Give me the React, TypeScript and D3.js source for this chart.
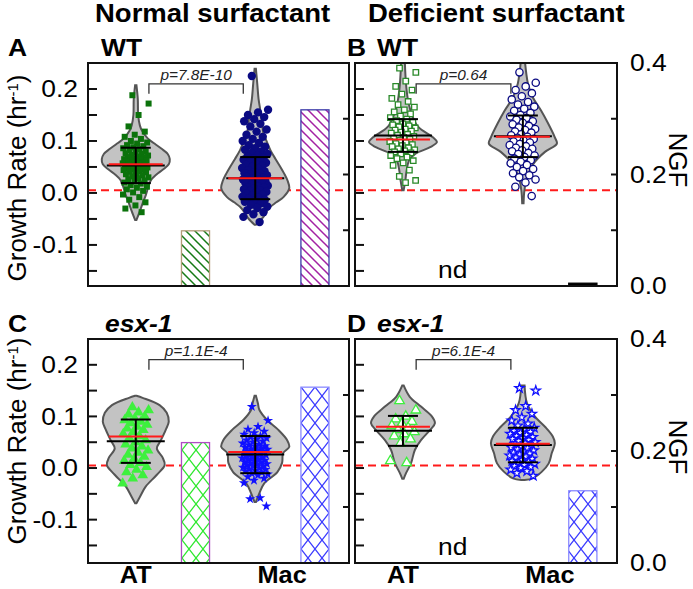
import React, { useEffect, useRef } from 'react';
import * as d3 from 'd3';

// ---------- text / labels ----------
const columnTitles = ['Normal surfactant', 'Deficient surfactant'];
const panelLetters = ['A', 'B', 'C', 'D'];
const panelStrains = ['WT', 'WT', 'esx-1', 'esx-1'];
const pValues = ['p=7.8E-10', 'p=0.64', 'p=1.1E-4', 'p=6.1E-4'];
const categories = ['AT', 'Mac'];
const growthTickLabels = [0.2, 0.1, 0.0, -0.1];
const growthMinorTicks = [-0.15, -0.1, -0.05, 0, 0.05, 0.1, 0.15, 0.2];
const ngfTickLabels = [0.0, 0.2, 0.4];
const ngfMinorTicks = [0.1, 0.2, 0.3];

// ---------- growth-rate points (hr^-1) ----------
const wtNormalAT = [0.188, 0.172, 0.150, 0.128, 0.118, 0.112, 0.108, 0.104, 0.100, 0.097, 0.095, 0.092, 0.090, 0.088, 0.086, 0.084, 0.082, 0.080, 0.078, 0.076, 0.075, 0.073, 0.072, 0.070, 0.069, 0.068, 0.066, 0.065, 0.064, 0.063, 0.062, 0.061, 0.060, 0.059, 0.058, 0.057, 0.056, 0.055, 0.054, 0.053, 0.052, 0.051, 0.050, 0.049, 0.048, 0.047, 0.046, 0.045, 0.044, 0.042, 0.041, 0.040, 0.038, 0.036, 0.034, 0.032, 0.030, 0.028, 0.026, 0.024, 0.022, 0.020, 0.018, 0.015, 0.012, 0.010, 0.007, 0.004, 0.001, -0.003, -0.008, -0.013, -0.018, -0.024, -0.030, -0.037];
const wtNormalMac = [0.225, 0.160, 0.155, 0.150, 0.146, 0.142, 0.138, 0.133, 0.128, 0.122, 0.118, 0.112, 0.108, 0.104, 0.100, 0.096, 0.092, 0.089, 0.086, 0.083, 0.080, 0.077, 0.075, 0.072, 0.070, 0.068, 0.066, 0.064, 0.062, 0.060, 0.058, 0.056, 0.054, 0.052, 0.050, 0.048, 0.046, 0.044, 0.042, 0.040, 0.038, 0.037, 0.035, 0.034, 0.032, 0.031, 0.029, 0.028, 0.026, 0.025, 0.023, 0.022, 0.020, 0.019, 0.017, 0.016, 0.014, 0.013, 0.011, 0.010, 0.008, 0.007, 0.005, 0.004, 0.002, 0.001, -0.001, -0.003, -0.005, -0.007, -0.009, -0.011, -0.013, -0.015, -0.017, -0.020, -0.023, -0.026, -0.029, -0.033, -0.037, -0.041, -0.046, -0.056];
const wtDeficientAT = [0.240, 0.232, 0.215, 0.205, 0.198, 0.190, 0.182, 0.176, 0.170, 0.165, 0.160, 0.156, 0.152, 0.148, 0.145, 0.142, 0.139, 0.136, 0.133, 0.131, 0.129, 0.127, 0.125, 0.123, 0.121, 0.119, 0.117, 0.115, 0.113, 0.111, 0.109, 0.107, 0.105, 0.103, 0.101, 0.099, 0.097, 0.095, 0.093, 0.091, 0.089, 0.087, 0.085, 0.083, 0.081, 0.079, 0.077, 0.075, 0.072, 0.069, 0.066, 0.062, 0.058, 0.053, 0.044, 0.032, 0.024, 0.020];
const wtDeficientMac = [0.232, 0.212, 0.205, 0.198, 0.192, 0.186, 0.180, 0.175, 0.170, 0.166, 0.162, 0.158, 0.154, 0.150, 0.147, 0.144, 0.141, 0.138, 0.135, 0.132, 0.129, 0.126, 0.123, 0.121, 0.118, 0.116, 0.113, 0.111, 0.108, 0.106, 0.104, 0.101, 0.099, 0.097, 0.094, 0.092, 0.090, 0.087, 0.085, 0.082, 0.080, 0.077, 0.075, 0.072, 0.069, 0.066, 0.063, 0.060, 0.057, 0.054, 0.050, 0.046, 0.042, 0.038, 0.034, 0.030, 0.026, 0.020, 0.012, -0.006];
const esxNormalAT = [0.118, 0.112, 0.108, 0.104, 0.100, 0.096, 0.093, 0.090, 0.087, 0.084, 0.080, 0.077, 0.074, 0.070, 0.066, 0.062, 0.058, 0.054, 0.050, 0.046, 0.042, 0.038, 0.034, 0.030, 0.026, 0.022, 0.018, 0.014, 0.010, 0.006, 0.002, -0.003, -0.008, -0.014, -0.020, -0.030];
const esxNormalMac = [0.119, 0.092, 0.080, 0.075, 0.071, 0.068, 0.065, 0.062, 0.060, 0.058, 0.056, 0.054, 0.052, 0.050, 0.048, 0.046, 0.045, 0.043, 0.042, 0.040, 0.039, 0.037, 0.036, 0.035, 0.033, 0.032, 0.031, 0.029, 0.028, 0.027, 0.025, 0.024, 0.023, 0.021, 0.020, 0.019, 0.017, 0.016, 0.015, 0.013, 0.012, 0.011, 0.009, 0.008, 0.007, 0.005, 0.004, 0.003, 0.001, 0.000, -0.002, -0.003, -0.005, -0.006, -0.008, -0.010, -0.012, -0.014, -0.017, -0.020, -0.024, -0.029, -0.058, -0.060, -0.074];
const esxDeficientAT = [0.130, 0.112, 0.100, 0.095, 0.090, 0.086, 0.082, 0.078, 0.074, 0.070, 0.066, 0.062, 0.056, 0.048, 0.014, 0.010];
const esxDeficientMac = [0.155, 0.150, 0.120, 0.112, 0.105, 0.098, 0.092, 0.086, 0.082, 0.078, 0.075, 0.072, 0.070, 0.068, 0.066, 0.064, 0.062, 0.060, 0.058, 0.056, 0.054, 0.052, 0.050, 0.048, 0.046, 0.044, 0.042, 0.040, 0.038, 0.036, 0.034, 0.032, 0.030, 0.028, 0.026, 0.024, 0.022, 0.020, 0.018, 0.016, 0.014, 0.012, 0.010, 0.008, 0.006, 0.004, 0.002, 0.000, -0.003, -0.006, -0.010, -0.015];

// ---------- summary statistics (per panel A,B,C,D) ----------
const meanAT = [0.053, 0.1105, 0.052, 0.072];
const sdAT = [0.034, 0.0315, 0.042, 0.029];
const medianAT = [0.055, 0.103, 0.061, 0.080];
const meanMac = [0.0285, 0.109, 0.026, 0.0445];
const sdMac = [0.0405, 0.040, 0.036, 0.0335];
const medianMac = [0.0285, 0.108, 0.031, 0.047];

// ---------- NGF bars (null = not detected) ----------
const ngfAT = [0.099, null, 0.215, null];
const ngfMac = [0.316, 0.005, 0.314, 0.129];

// ---------- violin density profiles [growth value, relative density] ----------
const violinWtNormalAT = [[0.207, 0.02], [0.18, 0.06], [0.15, 0.07], [0.13, 0.12], [0.12, 0.18], [0.105, 0.35], [0.095, 0.55], [0.085, 0.76], [0.075, 0.94], [0.065, 1.0], [0.055, 0.97], [0.045, 0.8], [0.035, 0.6], [0.025, 0.45], [0.01, 0.36], [-0.005, 0.29], [-0.02, 0.2], [-0.035, 0.12], [-0.052, 0.02]];
const violinWtNormalMac = [[0.239, 0.02], [0.21, 0.06], [0.18, 0.1], [0.159, 0.15], [0.135, 0.2], [0.115, 0.24], [0.1, 0.33], [0.082, 0.45], [0.065, 0.6], [0.05, 0.74], [0.035, 0.87], [0.024, 0.95], [0.009, 1.0], [-0.008, 0.83], [-0.018, 0.62], [-0.027, 0.44], [-0.037, 0.32], [-0.046, 0.24], [-0.055, 0.12], [-0.061, 0.02]];
const violinWtDeficientAT = [[0.26, 0.05], [0.21, 0.09], [0.178, 0.15], [0.149, 0.27], [0.127, 0.45], [0.107, 0.88], [0.098, 1.0], [0.088, 0.8], [0.076, 0.38], [0.065, 0.2], [0.057, 0.15], [0.04, 0.1], [0.024, 0.07], [0.005, 0.02]];
const violinWtDeficientMac = [[0.26, 0.05], [0.23, 0.1], [0.21, 0.15], [0.184, 0.29], [0.159, 0.53], [0.134, 0.74], [0.107, 0.94], [0.095, 1.0], [0.079, 0.65], [0.057, 0.32], [0.03, 0.12], [0.005, 0.045], [-0.02, 0.02]];
const violinEsxNormalAT = [[0.14, 0.02], [0.136, 0.2], [0.122, 0.7], [0.107, 0.91], [0.09, 0.97], [0.074, 0.88], [0.054, 0.74], [0.038, 0.62], [0.02, 0.79], [0.006, 0.85], [-0.013, 0.62], [-0.036, 0.29], [-0.056, 0.12], [-0.068, 0.02]];
const violinEsxNormalMac = [[0.14, 0.02], [0.125, 0.08], [0.113, 0.12], [0.093, 0.35], [0.074, 0.68], [0.054, 0.94], [0.041, 1.0], [0.029, 0.82], [0.01, 0.79], [-0.008, 0.65], [-0.03, 0.26], [-0.049, 0.12], [-0.066, 0.02]];
const violinEsxDeficientAT = [[0.16, 0.02], [0.138, 0.2], [0.119, 0.53], [0.1, 0.85], [0.087, 0.94], [0.074, 0.8], [0.054, 0.53], [0.035, 0.35], [0.01, 0.24], [-0.01, 0.09], [-0.021, 0.02]];
const violinEsxDeficientMac = [[0.16, 0.05], [0.126, 0.12], [0.1, 0.35], [0.08, 0.65], [0.061, 0.88], [0.048, 0.94], [0.029, 0.85], [0.009, 0.76], [-0.007, 0.56], [-0.02, 0.29], [-0.023, 0.05]];

const pointsAT = [wtNormalAT, wtDeficientAT, esxNormalAT, esxDeficientAT];
const pointsMac = [wtNormalMac, wtDeficientMac, esxNormalMac, esxDeficientMac];
const violinsAT = [violinWtNormalAT, violinWtDeficientAT, violinEsxNormalAT, violinEsxDeficientAT];
const violinsMac = [violinWtNormalMac, violinWtDeficientMac, violinEsxNormalMac, violinEsxDeficientMac];

const FONT = "'Liberation Sans', Arial, Helvetica, sans-serif";

export default function App() {
  const ref = useRef<SVGSVGElement | null>(null);

  useEffect(() => {
    const svg = d3.select(ref.current);
    svg.selectAll('*').remove();
    const W = 693, H = 589;
    svg.attr('width', W).attr('height', H).attr('font-family', FONT);

    const colX = [[88, 349], [355, 617]];
    const rowY = [[63, 286], [339, 563]];
    const growthDomains = [[-0.179, 0.25], [-0.184, 0.25]];
    const SX = 1.1;

    const addText = (g: any, x: number, y: number, s: string, o: any = {}) => {
      return g.append('text')
        .attr('transform', `translate(${x},${y}) scale(${o.sx ?? SX},1)`)
        .attr('text-anchor', o.anchor ?? 'start')
        .attr('font-size', o.size ?? 24)
        .attr('font-weight', o.weight ?? 'normal')
        .attr('font-style', o.style ?? 'normal')
        .attr('dy', o.dy ?? 0)
        .attr('fill', o.fill ?? '#000')
        .text(s);
    };

    const defs = svg.append('defs');
    const hatch = (id: string, color: string) => {
      const p = defs.append('pattern').attr('id', id).attr('patternUnits', 'userSpaceOnUse').attr('width', 9).attr('height', 9);
      p.append('rect').attr('width', 9).attr('height', 9).attr('fill', '#fff');
      p.append('path').attr('d', 'M-1,-1 L10,10 M-1,8 L1,10 M8,-1 L10,1').attr('stroke', color).attr('stroke-width', 1.5);
    };
    const cross = (id: string, color: string) => {
      const p = defs.append('pattern').attr('id', id).attr('patternUnits', 'userSpaceOnUse').attr('width', 14).attr('height', 18);
      p.append('rect').attr('width', 14).attr('height', 18).attr('fill', '#fff');
      p.append('path').attr('d', 'M0,0 L14,18 M14,0 L0,18').attr('stroke', color).attr('stroke-width', 1.3);
    };
    hatch('hGreen', '#157a15');
    hatch('hPurple', '#a321a3');
    cross('xGreen', '#2ee82e');
    cross('xBlue', '#3a3aff');

    const barFill = [['url(#hGreen)', 'url(#hPurple)'], ['none', '#000'], ['url(#xGreen)', 'url(#xBlue)'], ['none', 'url(#xBlue)']];
    const barStroke = [['#b39c7a', '#3a3aa8'], ['none', '#000'], ['#b04cc4', '#8a8aff'], ['none', '#8a8aff']];

    const markerAT = [
      { type: d3.symbolSquare, size: 36, fill: '#0b720b', stroke: 'none' },
      { type: d3.symbolSquare, size: 30, fill: '#fff', stroke: '#2a8a2a' },
      { type: d3.symbolTriangle, size: 50, fill: '#3ef03e', stroke: 'none' },
      { type: d3.symbolTriangle, size: 40, fill: '#fff', stroke: '#3ef03e' },
    ];
    const markerMac = [
      { type: d3.symbolCircle, size: 55, fill: '#0a0a82', stroke: 'none' },
      { type: d3.symbolCircle, size: 42, fill: '#fff', stroke: '#0a0a82' },
      { type: d3.symbolStar, size: 32, fill: '#1010ff', stroke: 'none' },
      { type: d3.symbolStar, size: 26, fill: '#fff', stroke: '#1010ff' },
    ];

    const widthScale = d3.scaleLinear().domain([0, 1]).range([0, 34]);

    for (let i = 0; i < 4; i++) {
      const col = i % 2, row = Math.floor(i / 2);
      const [x0, x1] = colX[col];
      const [yTop, yBot] = rowY[row];
      const x = d3.scaleLinear().domain([0.2, 4.57]).range([x0, x1]);
      const y = d3.scaleLinear().domain(growthDomains[row]).range([yBot, yTop]);
      const yN = d3.scaleLinear().domain([0, 0.4]).range([yBot, yTop]);
      const panel = svg.append('g');
      const clipId = `clip${i}`;
      defs.append('clipPath').attr('id', clipId).append('rect')
        .attr('x', x0).attr('y', yTop).attr('width', x1 - x0).attr('height', yBot - yTop);
      const g = panel.append('g').attr('clip-path', `url(#${clipId})`);

      // red dashed reference line
      g.append('line').attr('x1', x0).attr('x2', x1).attr('y1', y(0.005)).attr('y2', y(0.005))
        .attr('stroke', '#ff1a1a').attr('stroke-width', 2).attr('stroke-dasharray', '8,5');

      // NGF bars
      const bw = x(2.235) - x(2);
      [ngfAT[i], ngfMac[i]].forEach((v, k) => {
        const cx = x(2 + 2 * k);
        if (v === null) {
          addText(g, x(1.83), yBot - 8, 'nd', { anchor: 'middle', size: 24 });
        } else {
          g.append('rect').attr('x', cx - bw).attr('width', 2 * bw)
            .attr('y', yN(v)).attr('height', yN(0) - yN(v))
            .attr('fill', barFill[i][k]).attr('stroke', barStroke[i][k]).attr('stroke-width', 1.3);
        }
      });

      // violins
      const groups = [
        { pos: 1, prof: violinsAT[i], pts: pointsAT[i], mk: markerAT[i], mean: meanAT[i], sd: sdAT[i], med: medianAT[i] },
        { pos: 3, prof: violinsMac[i], pts: pointsMac[i], mk: markerMac[i], mean: meanMac[i], sd: sdMac[i], med: medianMac[i] },
      ];
      groups.forEach((gr) => {
        const cx = x(gr.pos);
        const area = d3.area<number[]>()
          .y((d) => y(d[0]))
          .x0((d) => cx - widthScale(d[1]))
          .x1((d) => cx + widthScale(d[1]))
          .curve(d3.curveCatmullRom.alpha(0.5));
        g.append('path').datum(gr.prof).attr('d', area as any)
          .attr('fill', '#c3c3c3').attr('stroke', '#555').attr('stroke-width', 2);

        const sym = d3.symbol().type(gr.mk.type).size(gr.mk.size);
        gr.pts.forEach((v, j) => {
          const jit = (((j * 0.618034 + 0.37) % 1) - 0.5) * 0.44;
          g.append('path').attr('d', sym() as string)
            .attr('transform', `translate(${x(gr.pos + jit)},${y(v)})`)
            .attr('fill', gr.mk.fill).attr('stroke', gr.mk.stroke).attr('stroke-width', 1.3);
        });

        const capW = 15, lineW = 29;
        const up = gr.mean + gr.sd, lo = gr.mean - gr.sd;
        const eb = g.append('g').attr('stroke', '#000').attr('stroke-width', 2);
        eb.append('line').attr('x1', cx).attr('x2', cx).attr('y1', y(up)).attr('y2', y(lo));
        eb.append('line').attr('x1', cx - capW).attr('x2', cx + capW).attr('y1', y(up)).attr('y2', y(up));
        eb.append('line').attr('x1', cx - capW).attr('x2', cx + capW).attr('y1', y(lo)).attr('y2', y(lo));
        eb.append('line').attr('x1', cx - lineW).attr('x2', cx + lineW).attr('y1', y(gr.mean)).attr('y2', y(gr.mean));
        g.append('line').attr('x1', cx - lineW + 2).attr('x2', cx + lineW - 2).attr('y1', y(gr.med)).attr('y2', y(gr.med))
          .attr('stroke', '#ff1a1a').attr('stroke-width', 2);
      });

      // significance bracket
      const bx0 = x(1.22), bx1 = x(2.8), by = y(0.21);
      g.append('path').attr('d', `M${bx0},${by + 10} V${by} H${bx1} V${by + 10}`)
        .attr('fill', 'none').attr('stroke', '#333').attr('stroke-width', 1.3);
      addText(g, (bx0 + bx1) / 2, by - 4, pValues[i], { anchor: 'middle', size: 14, style: 'italic', fill: '#222' });

      // frame
      panel.append('rect').attr('x', x0).attr('y', yTop).attr('width', x1 - x0).attr('height', yBot - yTop)
        .attr('fill', 'none').attr('stroke', '#111').attr('stroke-width', 2);

      // inner ticks
      growthMinorTicks.forEach((t) => {
        panel.append('line').attr('x1', x0).attr('x2', x0 + 9).attr('y1', y(t)).attr('y2', y(t))
          .attr('stroke', '#111').attr('stroke-width', 2);
      });
      ngfMinorTicks.forEach((t) => {
        panel.append('line').attr('x1', x1 - 6).attr('x2', x1).attr('y1', yN(t)).attr('y2', yN(t))
          .attr('stroke', '#111').attr('stroke-width', 2);
      });

      if (col === 0) {
        growthTickLabels.forEach((t) => {
          addText(panel, x0 - 10, y(t), d3.format('.1f')(t).replace('\u2212', '-'), { anchor: 'end', size: 24, dy: '0.35em' });
        });
        const gt = svg.append('text')
          .attr('transform', `translate(26,${row === 0 ? 178 : 441}) rotate(-90)`)
          .attr('text-anchor', 'middle').attr('font-size', 26);
        gt.append('tspan').text('Growth Rate (hr');
        gt.append('tspan').attr('font-size', 15).attr('dy', -8).text('-1');
        gt.append('tspan').attr('dy', 8).text(')');
      } else {
        ngfTickLabels.forEach((t) => {
          addText(panel, x1 + 13, yN(t), d3.format('.1f')(t), { anchor: 'start', size: 24, dy: '0.35em' });
        });
        svg.append('text')
          .attr('transform', `translate(669,${row === 0 ? 160 : 447}) rotate(90)`)
          .attr('text-anchor', 'middle').attr('font-size', 26).text('NGF');
      }

      // panel letters / strain
      addText(svg, col === 0 ? 8 : 347, yTop - 7, panelLetters[i], { size: 24, weight: 'bold' });
      addText(svg, col === 0 ? (row === 0 ? 101 : 105) : 377, yTop - 7, panelStrains[i], { size: 24, weight: 'bold', style: row === 1 ? 'italic' : 'normal' });

      if (row === 0) {
        addText(svg, col === 0 ? 95 : 368, 22, columnTitles[col], { size: 25, weight: 'bold' });
      } else {
        addText(svg, x(1.0), 583, categories[0], { anchor: 'middle', size: 23, weight: 'bold' });
        addText(svg, x(3.45), 583, categories[1], { anchor: 'middle', size: 23, weight: 'bold' });
      }
    }
  }, []);

  return <svg ref={ref} style={{ position: 'absolute', left: 0, top: 0, background: '#fff' }} />;
}
